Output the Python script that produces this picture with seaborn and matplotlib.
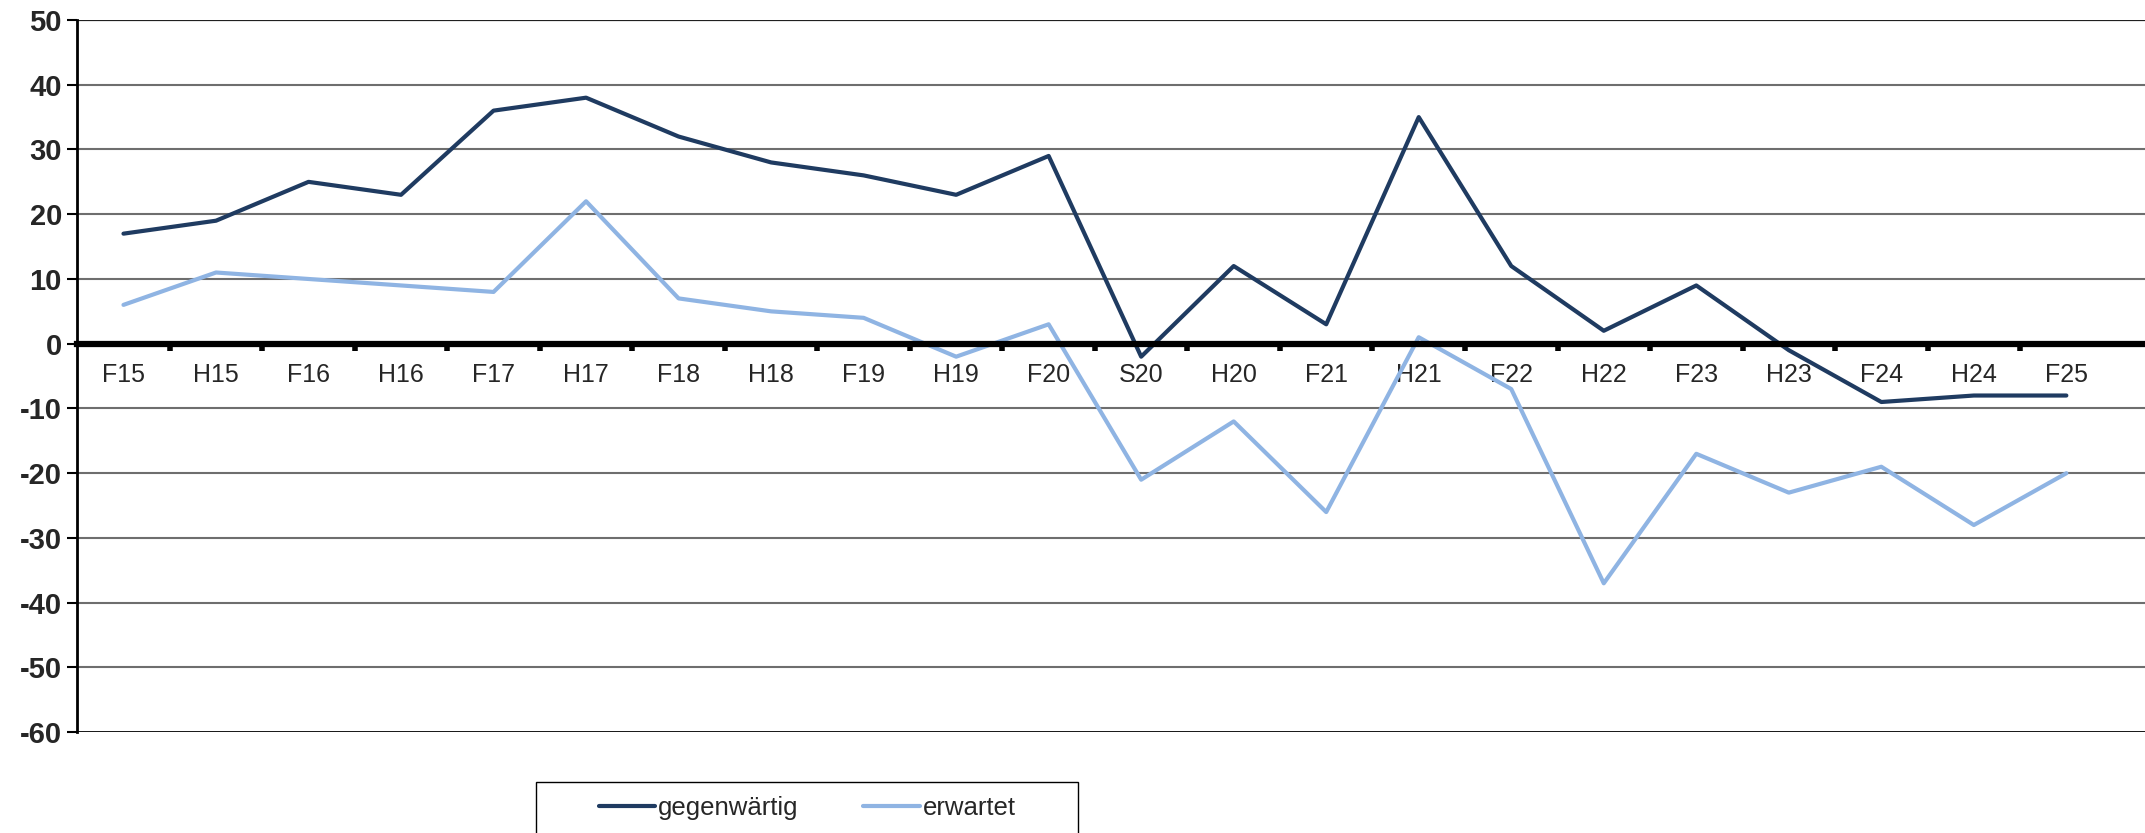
import numpy as np
import pandas as pd
import matplotlib
matplotlib.use("Agg")
import matplotlib.pyplot as plt
from matplotlib.patches import Rectangle
import seaborn as sns

# Data
perioden = ['F15', 'H15', 'F16', 'H16', 'F17', 'H17', 'F18', 'H18', 'F19', 'H19', 'F20',
            'S20', 'H20', 'F21', 'H21', 'F22', 'H22', 'F23', 'H23', 'F24', 'H24', 'F25']
gegenwaertig = [17, 19, 25, 23, 36, 38, 32, 28, 26, 23, 29,
                -2, 12, 3, 35, 12, 2, 9, -1, -9, -8, -8]
erwartet = [6, 11, 10, 9, 8, 22, 7, 5, 4, -2, 3,
            -21, -12, -26, 1, -7, -37, -17, -23, -19, -28, -20]
serien = ['gegenwärtig', 'erwartet']
farben = ['#1f3b61', '#8fb4e3']
y_ticks = list(range(-60, 51, 10))

n = len(perioden)
df = pd.DataFrame({
    'x': list(range(n)) * 2,
    'wert': gegenwaertig + erwartet,
    'serie': [serien[0]] * n + [serien[1]] * n,
})

sns.set_style("white")
plt.rcParams['font.family'] = ['Liberation Sans', 'DejaVu Sans']

fig = plt.figure(figsize=(21.45, 8.33), dpi=100)
ax = fig.add_axes([0.036, 0.121, 0.964, 0.855])

# horizontal gridlines
for yv in y_ticks:
    if yv in (0, -60, 50):
        continue
    ax.axhline(yv, color='#6e6e6e', lw=1.5, zorder=0)
ax.axhline(50, color='#202020', lw=1.6, zorder=0)
ax.axhline(-60, color='black', lw=2, zorder=0)

sns.lineplot(data=df, x='x', y='wert', hue='serie', palette=farben,
             linewidth=3, ax=ax, legend=False, zorder=3)

ax.set_xlim(-0.5, n - 1 + 0.85)
ax.set_ylim(-60, 50)
ax.set_yticks(y_ticks)
ax.set_yticklabels([str(v) for v in y_ticks], fontsize=21, fontweight='bold')
ax.tick_params(axis='y', left=True, length=7, width=1.5, color='black', pad=4, direction='out')

# x axis sits on the zero line
ax.spines['bottom'].set_position(('data', 0))
ax.spines['bottom'].set_linewidth(4.5)
ax.spines['bottom'].set_color('black')
ax.spines['left'].set_linewidth(2)
ax.spines['left'].set_color('black')
ax.spines['top'].set_visible(False)
ax.spines['right'].set_visible(False)
ax.spines['bottom'].set_zorder(4)

ax.set_xticks(range(n))
ax.set_xticklabels(perioden, fontsize=18)
ax.set_xticks(np.arange(0.5, n - 1, 1.0), minor=True)
ax.tick_params(axis='x', which='major', bottom=True, length=0, pad=14)
ax.tick_params(axis='x', which='minor', bottom=True, length=5, width=4,
               color='black', direction='out')
ax.set_xlabel('')
ax.set_ylabel('')

# legend: frameless, with its own box drawn around it
handles = [plt.Line2D([0], [0], color=c, lw=3) for c in farben]
fig.legend(handles, serien, loc='center', bbox_to_anchor=(0.3763, 0.03),
           ncol=2, fontsize=18.5, frameon=False,
           handlelength=2.2, handletextpad=0.12, columnspacing=2.5)
fig.patches.append(Rectangle((392 / 1568, -0.01), (788 - 392) / 1568, 0.0708,
                             transform=fig.transFigure, fill=False,
                             edgecolor='black', linewidth=1))

fig.savefig('out.png', dpi=100)
